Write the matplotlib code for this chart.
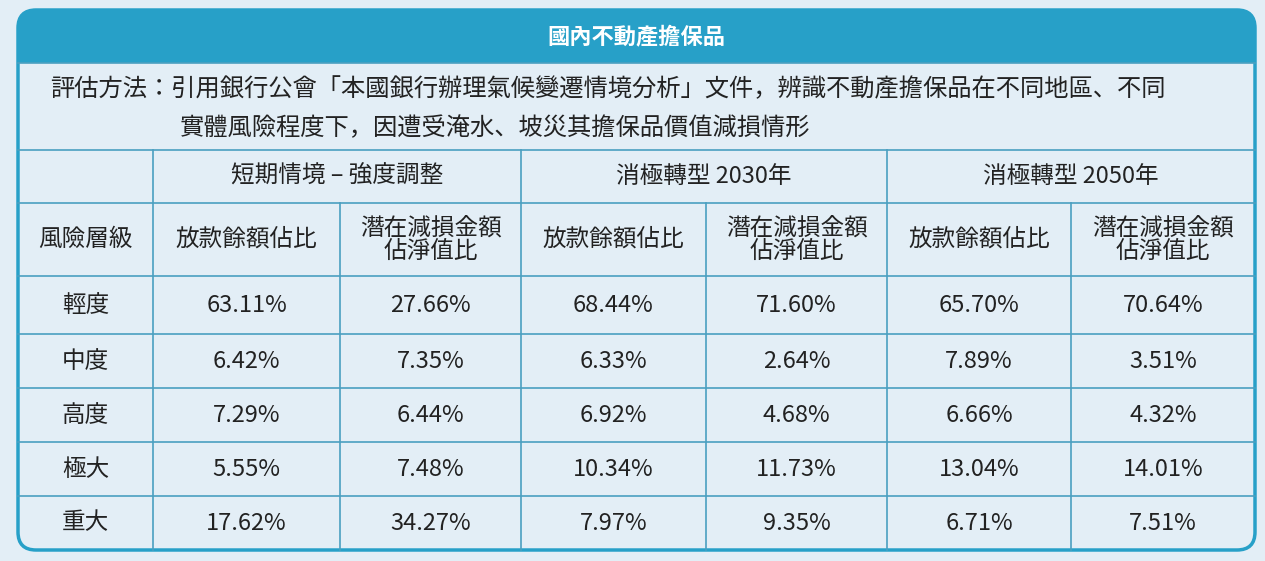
import matplotlib.pyplot as plt
from matplotlib import font_manager
from matplotlib.patches import FancyBboxPatch, Rectangle

names = {f.name for f in font_manager.fontManager.ttflist}
cjk = [n for n in ["Noto Sans CJK TC", "Noto Sans CJK JP", "Noto Sans CJK SC", "Noto Sans CJK KR"] if n in names]
plt.rcParams["font.family"] = "sans-serif"
plt.rcParams["font.sans-serif"] = cjk + ["DejaVu Sans"]

title = "國內不動產擔保品"
desc1 = "評估方法：引用銀行公會「本國銀行辦理氣候變遷情境分析」文件，辨識不動產擔保品在不同地區、不同"
desc2 = "實體風險程度下，因遭受淹水、坡災其擔保品價值減損情形"
scenarios = ["短期情境 – 強度調整", "消極轉型 2030年", "消極轉型 2050年"]
sub_headers = ["放款餘額佔比", "潛在減損金額\n佔淨值比"]
row_header = "風險層級"
levels = ["輕度", "中度", "高度", "極大", "重大"]
values = [
    ["63.11%", "27.66%", "68.44%", "71.60%", "65.70%", "70.64%"],
    ["6.42%", "7.35%", "6.33%", "2.64%", "7.89%", "3.51%"],
    ["7.29%", "6.44%", "6.92%", "4.68%", "6.66%", "4.32%"],
    ["5.55%", "7.48%", "10.34%", "11.73%", "13.04%", "14.01%"],
    ["17.62%", "34.27%", "7.97%", "9.35%", "6.71%", "7.51%"],
]

bg = "#e3eef6"
blue = "#27a0c8"
line = "#4a9fc0"
txt = "#222222"

col_x = [18, 153, 340, 521, 706, 887, 1071, 1255]
row_y = [150, 203, 276, 334, 388, 442, 496, 550]
top, head_bot = 10, 63

fig = plt.figure(figsize=(12.65, 5.61), dpi=100)
fig.patch.set_facecolor(bg)
ax = fig.add_axes([0, 0, 1, 1])
ax.set_xlim(0, 1265)
ax.set_ylim(561, 0)
ax.axis("off")

# outer rounded frame and header band
ax.add_patch(FancyBboxPatch((col_x[0], top), col_x[-1] - col_x[0], row_y[-1] - top,
                            boxstyle="round,pad=0,rounding_size=18",
                            facecolor=bg, edgecolor=blue, lw=2.5, zorder=1))
ax.add_patch(FancyBboxPatch((col_x[0], top), col_x[-1] - col_x[0], 40,
                            boxstyle="round,pad=0,rounding_size=18",
                            facecolor=blue, edgecolor="none", zorder=2))
ax.add_patch(Rectangle((col_x[0], top + 20), col_x[-1] - col_x[0], head_bot - top - 20,
                       facecolor=blue, edgecolor="none", zorder=2))
ax.text((col_x[0] + col_x[-1]) / 2, (top + head_bot) / 2, title, color="white",
        fontsize=16, fontweight="bold", ha="center", va="center", zorder=3)

# description
ax.text(50, 89, desc1, fontsize=17.5, color=txt, ha="left", va="center")
ax.text(180, 128, desc2, fontsize=17.5, color=txt, ha="left", va="center")

# grid lines
for y in row_y[:-1]:
    ax.plot([col_x[0], col_x[-1]], [y, y], color=line, lw=1.2, zorder=2)
ax.plot([col_x[0], col_x[-1]], [head_bot, head_bot], color=line, lw=1.2, zorder=2)
for i, x in enumerate(col_x[1:-1], start=1):
    y0 = row_y[0] if i % 2 == 1 else row_y[1]
    ax.plot([x, x], [y0, row_y[-1]], color=line, lw=1.2, zorder=2)

fs = 17
for k, s in enumerate(scenarios):
    cx = (col_x[1 + 2 * k] + col_x[3 + 2 * k]) / 2
    ax.text(cx, (row_y[0] + row_y[1]) / 2, s, fontsize=fs, color=txt, ha="center", va="center")
    for j, sh in enumerate(sub_headers):
        c = 1 + 2 * k + j
        ax.text((col_x[c] + col_x[c + 1]) / 2, (row_y[1] + row_y[2]) / 2, sh, fontsize=fs,
                color=txt, ha="center", va="center", linespacing=1.0)
ax.text((col_x[0] + col_x[1]) / 2, (row_y[1] + row_y[2]) / 2, row_header, fontsize=fs,
        color=txt, ha="center", va="center")

for r, (lv, vals) in enumerate(zip(levels, values)):
    cy = (row_y[r + 2] + row_y[r + 3]) / 2
    ax.text((col_x[0] + col_x[1]) / 2, cy, lv, fontsize=fs, color=txt, ha="center", va="center")
    for c, v in enumerate(vals):
        ax.text((col_x[c + 1] + col_x[c + 2]) / 2, cy, v, fontsize=fs, color=txt,
                ha="center", va="center")

fig.savefig("out.png", dpi=100, facecolor=bg)
